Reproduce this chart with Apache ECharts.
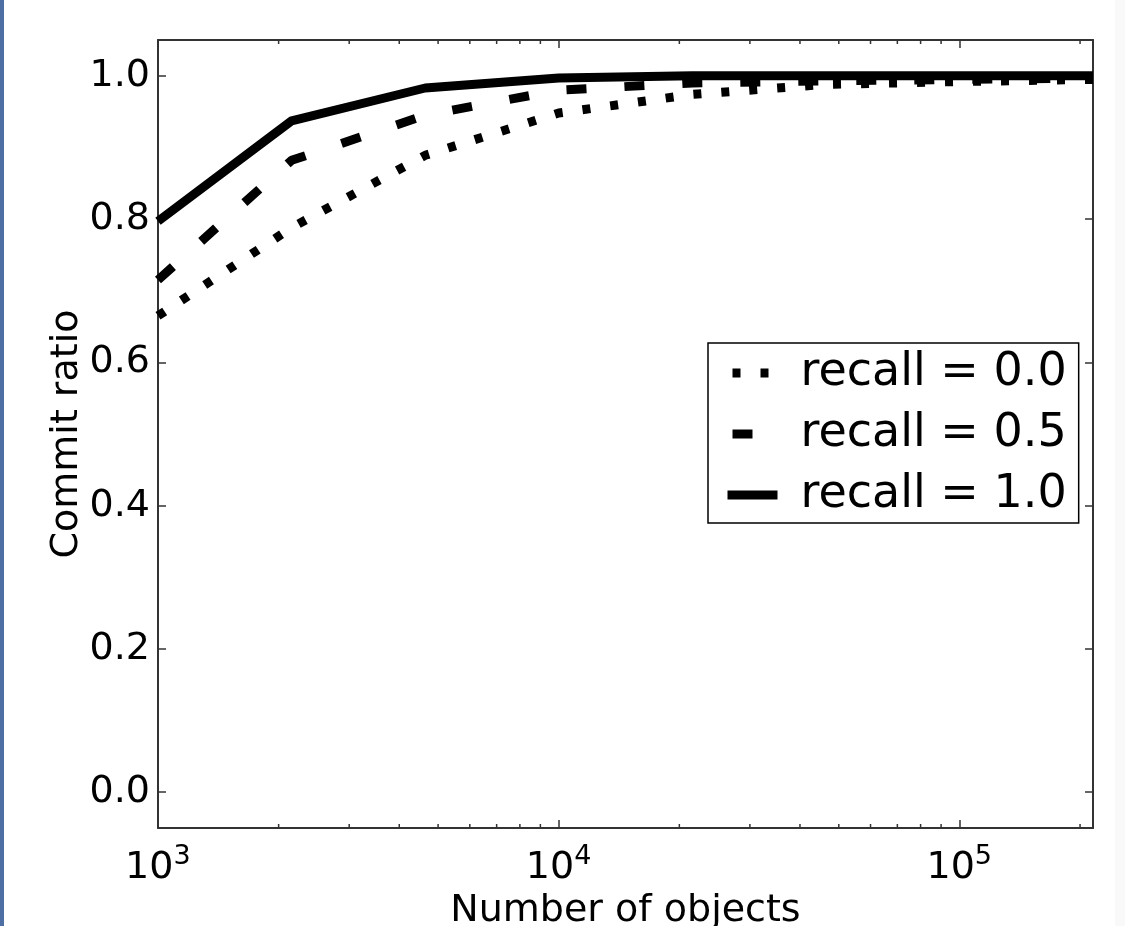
<!DOCTYPE html>
<html><head><meta charset="utf-8">
<script src="https://cdn.jsdelivr.net/npm/echarts@6/dist/echarts.min.js"></script>
<style>html,body{margin:0;padding:0;background:#fff;}#c{width:1125px;height:926px;}</style>
</head><body><div id="c"></div>
<script>
// ---- data ----
const objectCounts = [1000, 2154, 4642, 10000, 21544, 46416, 100000, 215443];
const recall00 = [0.665, 0.788, 0.889, 0.948, 0.974, 0.988, 0.992, 0.995];
const recall05 = [0.715, 0.882, 0.945, 0.980, 0.990, 0.993, 0.995, 0.997];
const recall10 = [0.797, 0.937, 0.983, 0.997, 1.000, 1.000, 1.000, 1.000];
const seriesNames = ['recall = 0.0', 'recall = 0.5', 'recall = 1.0'];
const yTickValues = [0.0, 0.2, 0.4, 0.6, 0.8, 1.0];
const xMinorTickValues = [2000, 3000, 4000, 5000, 6000, 7000, 8000, 9000,
  20000, 30000, 40000, 50000, 60000, 70000, 80000, 90000, 200000];
const xTitle = 'Number of objects';
const yTitle = 'Commit ratio';
const xRange = [1000, 215443.469];
const yRange = [-0.05, 1.05];

const FONT = 'DejaVu Sans';
const AX = '#333';
const chart = echarts.init(document.getElementById('c'), null, {renderer: 'canvas'});

function pairs(ys) { return objectCounts.map((x, i) => [x, ys[i]]); }
function xLabel(v) {
  const l = Math.log10(v);
  const e = Math.round(l);
  if (Math.abs(l - e) > 1e-6) return '';
  return '{b|10}{s|' + e + '}{h| }';
}

const lineBase = {type: 'line', showSymbol: false, symbol: 'none', xAxisIndex: 0, yAxisIndex: 0,
  animation: false, silent: true, clip: true};

chart.setOption({
  animation: false,
  backgroundColor: '#fff',
  grid: {left: 158, top: 40, right: 32, bottom: 98, containLabel: false, outerBoundsMode: 'none'},
  xAxis: [{
    type: 'log', logBase: 10, min: xRange[0], max: xRange[1], position: 'bottom',
    name: xTitle, nameLocation: 'middle', nameGap: 64, nameMoveOverlap: false,
    nameTextStyle: {fontSize: 38, fontFamily: FONT, color: '#000'},
    axisLine: {show: true, onZero: false, lineStyle: {color: AX, width: 2}},
    axisTick: {show: true, inside: true, length: 8, lineStyle: {color: AX, width: 1.5}},
    splitLine: {show: false}, minorTick: {show: false},
    axisLabel: {show: true, margin: 15, showMaxLabel: false, formatter: xLabel,
      rich: {
        b: {fontSize: 38, fontFamily: FONT, color: '#000', verticalAlign: 'bottom'},
        s: {fontSize: 27, fontFamily: FONT, color: '#000', verticalAlign: 'top'},
        h: {fontSize: 1, lineHeight: 44, fontFamily: FONT}
      }}
  }, {
    type: 'log', logBase: 10, min: xRange[0], max: xRange[1], position: 'top',
    axisLine: {show: true, onZero: false, lineStyle: {color: AX, width: 2}},
    axisTick: {show: true, inside: true, length: 8, lineStyle: {color: AX, width: 1.5}},
    axisLabel: {show: false}, splitLine: {show: false}
  }],
  yAxis: [{
    type: 'value', min: yRange[0], max: yRange[1], position: 'left',
    name: yTitle, nameLocation: 'middle', nameGap: 72, nameRotate: 90, nameMoveOverlap: false,
    nameTextStyle: {fontSize: 38, fontFamily: FONT, color: '#000'},
    axisLine: {show: true, onZero: false, lineStyle: {color: AX, width: 2}},
    axisTick: {show: true, inside: true, length: 8, customValues: yTickValues, lineStyle: {color: AX, width: 1.5}},
    axisLabel: {show: true, margin: 8, customValues: yTickValues, fontSize: 38, fontFamily: FONT, color: '#000',
      padding: [8, 0, 0, 0], formatter: v => v.toFixed(1)},
    splitLine: {show: false}
  }, {
    type: 'value', min: yRange[0], max: yRange[1], position: 'right',
    axisLine: {show: true, onZero: false, lineStyle: {color: AX, width: 2}},
    axisTick: {show: true, inside: true, length: 8, customValues: yTickValues, lineStyle: {color: AX, width: 1.5}},
    axisLabel: {show: false}, splitLine: {show: false}
  }],
  legend: {
    data: [
      {name: seriesNames[0], lineStyle: {dashOffset: 23}},
      {name: seriesNames[1], lineStyle: {dashOffset: 53}},
      {name: seriesNames[2]}
    ],
    orient: 'vertical', left: 708, top: 343,
    itemWidth: 50, itemHeight: 9, itemGap: 15, selectedMode: false,
    padding: [7, 12, 5, 15], borderColor: '#000', borderWidth: 1.5, borderRadius: 0,
    backgroundColor: '#fff',
    itemStyle: {opacity: 0, borderWidth: 0},
    lineStyle: {width: 9, cap: 'butt', color: '#000'},
    textStyle: {fontSize: 46, fontFamily: FONT, color: '#000', padding: [0, 0, 0, 18]}
  },
  graphic: [
    {type: 'rect', left: 0, top: 0, shape: {width: 4, height: 926}, style: {fill: '#4e6fa3'}, silent: true, z: 100},
    {type: 'rect', left: 1115, top: 0, shape: {width: 10, height: 926}, style: {fill: '#f9f9f9'}, silent: true, z: -1}
  ],
  series: [
    Object.assign({}, lineBase, {name: seriesNames[0], data: pairs(recall00), z: 2,
      lineStyle: {color: '#000', width: 9, type: [8, 20], cap: 'butt', join: 'round'}, itemStyle: {color: '#000'}}),
    Object.assign({}, lineBase, {name: seriesNames[1], data: pairs(recall05), z: 3,
      lineStyle: {color: '#000', width: 9, type: [20, 38], cap: 'butt', join: 'round'}, itemStyle: {color: '#000'}}),
    Object.assign({}, lineBase, {name: seriesNames[2], data: pairs(recall10), z: 4,
      lineStyle: {color: '#000', width: 9, type: 'solid', cap: 'butt', join: 'round'}, itemStyle: {color: '#000'}}),
    {
      type: 'custom', name: 'minor ticks', xAxisIndex: 0, yAxisIndex: 0, silent: true, clip: false, z: 5,
      data: xMinorTickValues.map(v => [v, yRange[0]]),
      encode: {x: 0, y: 1},
      renderItem: function (params, api) {
        const v = api.value(0);
        const b = api.coord([v, yRange[0]]);
        const t = api.coord([v, yRange[1]]);
        const st = {stroke: AX, lineWidth: 1.5};
        return {type: 'group', children: [
          {type: 'line', shape: {x1: b[0], y1: b[1], x2: b[0], y2: b[1] - 4}, style: st},
          {type: 'line', shape: {x1: t[0], y1: t[1], x2: t[0], y2: t[1] + 4}, style: st}
        ]};
      }
    }
  ]
});
</script></body></html>
